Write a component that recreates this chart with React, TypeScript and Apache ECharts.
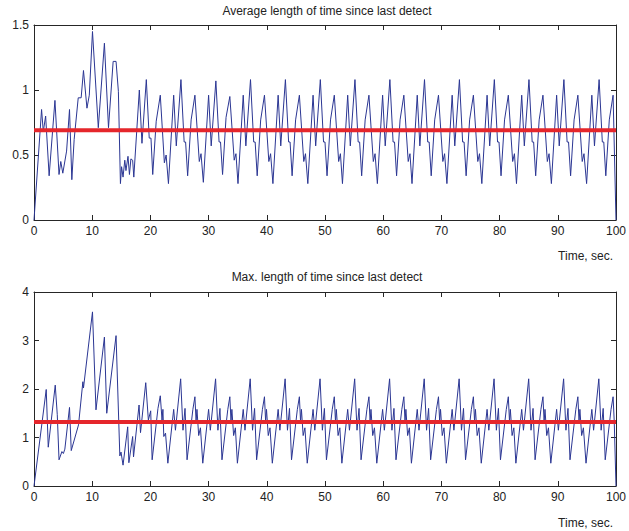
import React, { useEffect, useRef } from "react";
import * as echarts from "echarts";

const FONT = "'Liberation Sans', Arial, Helvetica, sans-serif";

const topTitle = "Average length of time since last detect";
const bottomTitle = "Max. length of time since last detect";
const xAxisName = "Time, sec.";

const avgMean = 0.69;
const maxMean = 1.32;

// [time, value] pairs
const avgSeries: number[][] = [
  [0, 0], [1.3, 0.85], [1.6, 0.68], [2.0, 0.8], [2.6, 0.34], [3.6, 0.92], [4.3, 0.35], [4.6, 0.45], [4.95, 0.36],
  [5.6, 0.53], [6.1, 0.85], [6.5, 0.31], [6.9, 0.62], [7.6, 0.94], [8.1, 0.94], [8.5, 1.15], [9.1, 0.86], [9.5, 0.96],
  [10.05, 1.45], [11.05, 0.71], [12.1, 1.36], [12.8, 0.71], [13.6, 1.22], [14.1, 1.22], [14.5, 0.99], [14.85, 0.28],
  [15.05, 0.41], [15.3, 0.33], [15.6, 0.46], [15.8, 0.38], [16.15, 0.49], [16.4, 0.35], [16.65, 0.47], [16.95, 0.46],
  [17.15, 0.33], [18.1, 1.0], [18.55, 0.59], [19.3, 1.08], [19.8, 0.63], [20.1, 0.63], [20.4, 0.35], [21.0, 0.76],
  [21.7, 0.96], [22.4, 0.44], [22.7, 0.5],
  [23.1, 0.28], [24.0, 0.96], [24.45, 0.57], [25.25, 1.08], [25.8, 0.6], [26.05, 0.6], [26.4, 0.34], [27.0, 0.77], [27.65, 0.96], [28.4, 0.45], [28.7, 0.51],
  [29.1, 0.29], [30.0, 0.96], [30.45, 0.57], [31.25, 1.07], [31.8, 0.6], [32.05, 0.6], [32.4, 0.35], [33.0, 0.79], [33.65, 0.95], [34.4, 0.46], [34.7, 0.51],
  [35.05, 0.28], [35.95, 0.96], [36.4, 0.57], [37.2, 1.08], [37.75, 0.6], [38.0, 0.6], [38.35, 0.34], [38.95, 0.77], [39.6, 0.96], [40.35, 0.45], [40.65, 0.51],
  [41.05, 0.28], [41.95, 0.96], [42.4, 0.57], [43.2, 1.08], [43.75, 0.6], [44.0, 0.6], [44.35, 0.34], [44.95, 0.77], [45.6, 0.96], [46.35, 0.45], [46.65, 0.51],
  [47.05, 0.28], [47.95, 0.96], [48.4, 0.57], [49.2, 1.08], [49.75, 0.6], [50.0, 0.6], [50.35, 0.34], [50.95, 0.77], [51.6, 0.96], [52.35, 0.45], [52.65, 0.51],
  [53.0, 0.28], [53.9, 0.96], [54.35, 0.57], [55.15, 1.08], [55.7, 0.6], [55.95, 0.6], [56.3, 0.34], [56.9, 0.77], [57.55, 0.96], [58.3, 0.45], [58.6, 0.51],
  [59.0, 0.28], [59.9, 0.96], [60.35, 0.57], [61.15, 1.08], [61.7, 0.6], [61.95, 0.6], [62.3, 0.34], [62.9, 0.77], [63.55, 0.96], [64.3, 0.45], [64.6, 0.51],
  [64.95, 0.28], [65.85, 0.96], [66.3, 0.57], [67.1, 1.08], [67.65, 0.6], [67.9, 0.6], [68.25, 0.34], [68.85, 0.77], [69.5, 0.96], [70.25, 0.45], [70.55, 0.51],
  [70.95, 0.28], [71.85, 0.96], [72.3, 0.57], [73.1, 1.08], [73.65, 0.6], [73.9, 0.6], [74.25, 0.34], [74.85, 0.77], [75.5, 0.96], [76.25, 0.45], [76.55, 0.51],
  [76.95, 0.28], [77.85, 0.96], [78.3, 0.57], [79.1, 1.08], [79.65, 0.6], [79.9, 0.6], [80.25, 0.34], [80.85, 0.77], [81.5, 0.96], [82.25, 0.45], [82.55, 0.51],
  [82.9, 0.28], [83.8, 0.96], [84.25, 0.57], [85.05, 1.08], [85.6, 0.6], [85.85, 0.6], [86.2, 0.34], [86.8, 0.77], [87.45, 0.96], [88.2, 0.45], [88.5, 0.51],
  [88.9, 0.28], [89.8, 0.96], [90.25, 0.57], [91.05, 1.08], [91.6, 0.6], [91.85, 0.6], [92.2, 0.34], [92.8, 0.77], [93.45, 0.96], [94.2, 0.45], [94.5, 0.51],
  [94.95, 0.28], [95.85, 0.96], [96.3, 0.57], [97.1, 1.08], [97.65, 0.6], [97.9, 0.6], [98.25, 0.34], [98.85, 0.77], [99.5, 0.96], [100, 0],
];

const maxSeries: number[][] = [
  [0, 0], [2.1, 1.99], [2.45, 0.8], [3.65, 2.08], [4.0, 1.47], [4.3, 0.54], [4.8, 0.71], [5.05, 0.67], [5.3, 0.76],
  [6.1, 1.62], [6.4, 0.73], [7.65, 1.26], [8.4, 2.15], [8.5, 2.02], [10.05, 3.59], [10.65, 1.57], [12.1, 3.07],
  [12.5, 1.5], [14.1, 3.1], [14.75, 0.62], [14.95, 0.7], [15.3, 0.43], [16.1, 1.22], [16.3, 0.48], [16.95, 1.02],
  [17.1, 0.6], [18.05, 1.67], [18.3, 1.1], [19.2, 2.13], [19.65, 1.36], [20.05, 1.55], [20.3, 0.54], [21.3, 1.6],
  [21.7, 1.86], [22.0, 1.36], [22.15, 1.58], [22.3, 1.02], [22.6, 1.09],
  [23.0, 0.47], [24.0, 1.58], [24.3, 1.15], [25.2, 2.21], [25.6, 1.15], [25.95, 1.6], [26.3, 0.54], [27.3, 1.58], [27.65, 1.84], [27.85, 1.33], [28.0, 1.58], [28.3, 1.04], [28.6, 1.2],
  [29.0, 0.47], [30.0, 1.58], [30.3, 1.15], [31.2, 2.21], [31.6, 1.15], [31.95, 1.6], [32.3, 0.54], [33.3, 1.58], [33.65, 1.84], [33.85, 1.33], [34.0, 1.58], [34.3, 1.04], [34.6, 1.2],
  [34.95, 0.47], [35.95, 1.58], [36.25, 1.15], [37.15, 2.21], [37.55, 1.15], [37.9, 1.6], [38.25, 0.54], [39.25, 1.58], [39.6, 1.84], [39.8, 1.33], [39.95, 1.58], [40.25, 1.04], [40.55, 1.2],
  [40.95, 0.47], [41.95, 1.58], [42.25, 1.15], [43.15, 2.21], [43.55, 1.15], [43.9, 1.6], [44.25, 0.54], [45.25, 1.58], [45.6, 1.84], [45.8, 1.33], [45.95, 1.58], [46.25, 1.04], [46.55, 1.2],
  [46.95, 0.47], [47.95, 1.58], [48.25, 1.15], [49.15, 2.21], [49.55, 1.15], [49.9, 1.6], [50.25, 0.54], [51.25, 1.58], [51.6, 1.84], [51.8, 1.33], [51.95, 1.58], [52.25, 1.04], [52.55, 1.2],
  [52.9, 0.47], [53.9, 1.58], [54.2, 1.15], [55.1, 2.21], [55.5, 1.15], [55.85, 1.6], [56.2, 0.54], [57.2, 1.58], [57.55, 1.84], [57.75, 1.33], [57.9, 1.58], [58.2, 1.04], [58.5, 1.2],
  [58.9, 0.47], [59.9, 1.58], [60.2, 1.15], [61.1, 2.21], [61.5, 1.15], [61.85, 1.6], [62.2, 0.54], [63.2, 1.58], [63.55, 1.84], [63.75, 1.33], [63.9, 1.58], [64.2, 1.04], [64.5, 1.2],
  [64.85, 0.47], [65.85, 1.58], [66.15, 1.15], [67.05, 2.21], [67.45, 1.15], [67.8, 1.6], [68.15, 0.54], [69.15, 1.58], [69.5, 1.84], [69.7, 1.33], [69.85, 1.58], [70.15, 1.04], [70.45, 1.2],
  [70.85, 0.47], [71.85, 1.58], [72.15, 1.15], [73.05, 2.21], [73.45, 1.15], [73.8, 1.6], [74.15, 0.54], [75.15, 1.58], [75.5, 1.84], [75.7, 1.33], [75.85, 1.58], [76.15, 1.04], [76.45, 1.2],
  [76.85, 0.47], [77.85, 1.58], [78.15, 1.15], [79.05, 2.21], [79.45, 1.15], [79.8, 1.6], [80.15, 0.54], [81.15, 1.58], [81.5, 1.84], [81.7, 1.33], [81.85, 1.58], [82.15, 1.04], [82.45, 1.2],
  [82.8, 0.47], [83.8, 1.58], [84.1, 1.15], [85.0, 2.21], [85.4, 1.15], [85.75, 1.6], [86.1, 0.54], [87.1, 1.58], [87.45, 1.84], [87.65, 1.33], [87.8, 1.58], [88.1, 1.04], [88.4, 1.2],
  [88.8, 0.47], [89.8, 1.58], [90.1, 1.15], [91.0, 2.21], [91.4, 1.15], [91.75, 1.6], [92.1, 0.54], [93.1, 1.58], [93.45, 1.84], [93.65, 1.33], [93.8, 1.58], [94.1, 1.04], [94.4, 1.2],
  [94.85, 0.47], [95.85, 1.58], [96.15, 1.15], [97.05, 2.21], [97.45, 1.15], [97.8, 1.6], [98.15, 0.54], [99.15, 1.58], [99.5, 1.84], [99.7, 1.33], [100, 0],
];

const xRange = [0, 100];
const xStep = 10;
const avgRange = [0, 1.5];
const avgStep = 0.5;
const maxRange = [0, 4];
const maxStep = 1;

const AXIS_COLOR = "#262626";
const LABEL_COLOR = "#222";
const BLUE = "#2b3693";
const RED = "#e5262b";

function xAx(gridIndex: number, position: "top" | "bottom", labels: boolean) {
  return {
    type: "value",
    gridIndex,
    position,
    min: xRange[0],
    max: xRange[1],
    interval: xStep,
    axisLine: { show: true, onZero: false, lineStyle: { color: AXIS_COLOR, width: 1 } },
    axisTick: { show: true, inside: true, length: 5, lineStyle: { color: AXIS_COLOR } },
    axisLabel: { show: labels, fontSize: 12, color: LABEL_COLOR, fontFamily: FONT, margin: 5 },
    splitLine: { show: false },
  };
}

function yAx(gridIndex: number, position: "left" | "right", labels: boolean, range: number[], step: number) {
  return {
    type: "value",
    gridIndex,
    position,
    min: range[0],
    max: range[1],
    interval: step,
    axisLine: { show: true, onZero: false, lineStyle: { color: AXIS_COLOR, width: 1 } },
    axisTick: { show: true, inside: true, length: 5, lineStyle: { color: AXIS_COLOR } },
    axisLabel: { show: labels, fontSize: 12, color: LABEL_COLOR, fontFamily: FONT, margin: 5 },
    splitLine: { show: false },
  };
}

export default function App() {
  const ref = useRef<HTMLDivElement>(null);
  useEffect(() => {
    if (!ref.current) return;
    const chart = echarts.init(ref.current, undefined, { renderer: "svg" });
    const textStyle = (t: string, x: number, y: number, align: string) => ({
      type: "text",
      x,
      y,
      style: {
        text: t,
        fill: LABEL_COLOR,
        fontSize: 12,
        fontFamily: FONT,
        textAlign: align,
        textVerticalAlign: "middle",
      },
    });
    chart.setOption({
      animation: false,
      backgroundColor: "#fff",
      grid: [
        { left: 34, top: 25, width: 585, height: 195 },
        { left: 34, top: 292, width: 585, height: 194 },
      ],
      xAxis: [xAx(0, "bottom", true), xAx(0, "top", false), xAx(1, "bottom", true), xAx(1, "top", false)],
      yAxis: [
        yAx(0, "left", true, avgRange, avgStep),
        yAx(0, "right", false, avgRange, avgStep),
        yAx(1, "left", true, maxRange, maxStep),
        yAx(1, "right", false, maxRange, maxStep),
      ],
      series: [
        {
          type: "line",
          xAxisIndex: 0,
          yAxisIndex: 0,
          data: avgSeries,
          showSymbol: false,
          lineStyle: { color: BLUE, width: 1 },
          z: 2,
        },
        {
          type: "line",
          xAxisIndex: 0,
          yAxisIndex: 0,
          data: [[xRange[0], avgMean], [xRange[1], avgMean]],
          showSymbol: false,
          lineStyle: { color: RED, width: 4 },
          z: 3,
        },
        {
          type: "line",
          xAxisIndex: 2,
          yAxisIndex: 2,
          data: maxSeries,
          showSymbol: false,
          lineStyle: { color: BLUE, width: 1 },
          z: 2,
        },
        {
          type: "line",
          xAxisIndex: 2,
          yAxisIndex: 2,
          data: [[xRange[0], maxMean], [xRange[1], maxMean]],
          showSymbol: false,
          lineStyle: { color: RED, width: 4 },
          z: 3,
        },
      ],
      graphic: [
        textStyle(topTitle, 327, 11, "center"),
        textStyle(bottomTitle, 327, 277, "center"),
        textStyle(xAxisName, 613, 256, "right"),
        textStyle(xAxisName, 613, 523, "right"),
      ],
    });
    return () => chart.dispose();
  }, []);
  return (
    <div
      ref={ref}
      style={{ position: "fixed", left: 0, top: 0, width: 629, height: 531, background: "#fff" }}
    />
  );
}
